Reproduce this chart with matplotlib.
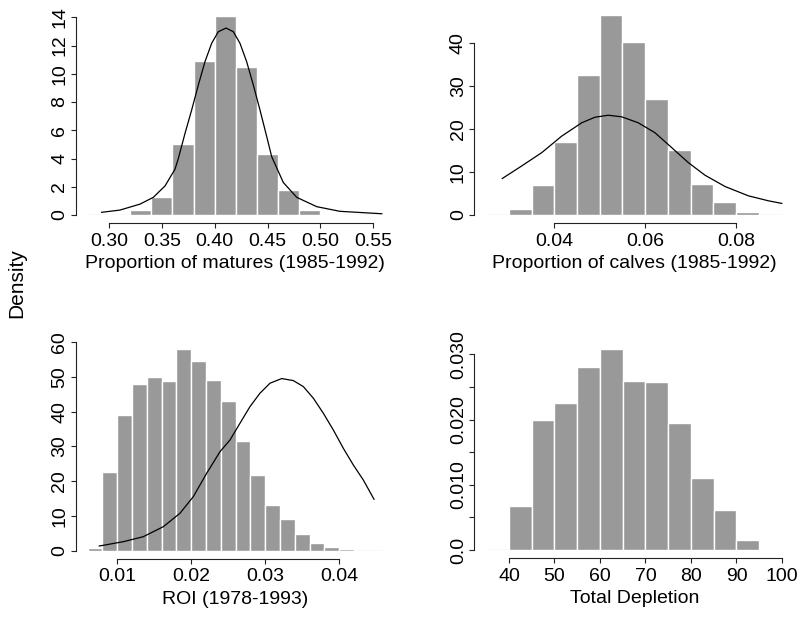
import matplotlib.pyplot as plt
import numpy as np

plt.rcParams['font.family'] = ['Liberation Sans', 'DejaVu Sans']

# ---- proportion of matures (1985-1992)
mat_edges = [0.32, 0.34, 0.36, 0.38, 0.40, 0.42, 0.44, 0.46, 0.48, 0.50, 0.52]
mat_dens = [0.35, 1.3, 5.0, 10.9, 14.1, 10.5, 4.3, 1.8, 0.38, 0.1]
mat_cx = [0.2931, 0.3104, 0.3293, 0.3419, 0.3530, 0.3624, 0.3656, 0.3719, 0.3782,
          0.3845, 0.3908, 0.3971, 0.4034, 0.4107, 0.4176, 0.4239, 0.4302, 0.4365,
          0.4428, 0.4492, 0.4539, 0.4649, 0.4776, 0.4965, 0.5185, 0.5580]
mat_cy = [0.19, 0.35, 0.77, 1.25, 2.06, 3.24, 4.01, 5.78, 7.44,
          9.21, 10.86, 12.16, 12.98, 13.24, 12.98, 12.16, 10.86, 9.21,
          7.44, 5.55, 4.13, 2.30, 1.25, 0.59, 0.26, 0.09]
mat_xticks = [0.30, 0.35, 0.40, 0.45, 0.50, 0.55]
mat_yticks = [0, 2, 4, 6, 8, 10, 12, 14]

# ---- proportion of calves (1985-1992)
calf_edges = [0.030, 0.035, 0.040, 0.045, 0.050, 0.055, 0.060, 0.065, 0.070, 0.075, 0.080, 0.085]
calf_dens = [1.5, 6.9, 16.9, 32.7, 46.6, 40.2, 27.1, 15.1, 7.3, 3.0, 0.77]
calf_cx = [0.02855, 0.03282, 0.03723, 0.04163, 0.04603, 0.04896, 0.05189, 0.05484,
           0.05849, 0.06217, 0.06585, 0.06950, 0.07318, 0.07758, 0.08271, 0.08712, 0.09007]
calf_cy = [8.50, 11.42, 14.52, 18.37, 21.47, 22.77, 23.23, 22.86,
           21.47, 19.15, 15.68, 12.20, 9.26, 6.64, 4.47, 3.31, 2.70]
calf_xticks = [0.04, 0.06, 0.08]
calf_yticks = [0, 10, 20, 30, 40]

# ---- ROI (1978-1993)
roi_edges = [0.006, 0.008, 0.010, 0.012, 0.014, 0.016, 0.018, 0.020, 0.022, 0.024,
             0.026, 0.028, 0.030, 0.032, 0.034, 0.036, 0.038, 0.040, 0.042]
roi_dens = [0.9, 22.6, 39.1, 47.9, 49.9, 48.9, 58.0, 54.5, 49.0,
            43.1, 31.6, 21.8, 13.2, 9.2, 4.7, 2.1, 0.97, 0.5]
roi_cx = [0.00757, 0.01081, 0.01351, 0.01622, 0.01847, 0.02027, 0.02208, 0.02388,
          0.02523, 0.02658, 0.02793, 0.02928, 0.03064, 0.03222, 0.03378, 0.03514,
          0.03649, 0.03784, 0.03919, 0.04054, 0.04189, 0.04324, 0.04469]
roi_cy = [1.35, 2.59, 4.03, 6.91, 10.77, 15.55, 22.29, 28.5,
          31.87, 36.68, 41.46, 45.32, 48.20, 49.53, 48.95, 47.22,
          43.88, 39.56, 34.75, 29.48, 24.68, 20.36, 14.80]
roi_xticks = [0.01, 0.02, 0.03, 0.04]
roi_yticks = [0, 10, 20, 30, 40, 50, 60]

# ---- total depletion
dep_edges = [40, 45, 50, 55, 60, 65, 70, 75, 80, 85, 90, 95, 100]
dep_dens = [0.0067, 0.0199, 0.0225, 0.0280, 0.0308, 0.0259, 0.0257, 0.0194,
            0.0110, 0.0062, 0.0015, 0.0002]
dep_xticks = [40, 50, 60, 70, 80, 90, 100]
dep_yticks = [0, 0.005, 0.010, 0.015, 0.020, 0.025, 0.030]
dep_ylabels = ['0.0', '', '0.010', '', '0.020', '', '0.030']

W, H = 801, 617
fig = plt.figure(figsize=(W / 100, H / 100), dpi=100)


def panel(left, right, top, bottom, xlim, ylim):
    # box given in pixels of the picture, y counted from the top
    ax = fig.add_axes([left / W, 1 - bottom / H, (right - left) / W, (bottom - top) / H])
    ax.set_xlim(xlim)
    ax.set_ylim(ylim)
    return ax


def draw(ax, edges, dens, xticks, yticks, xlabel, ylabels=None):
    ax.axhline(0, color='#dddddd', lw=1.0, zorder=1)
    ax.bar(edges[:-1], dens, width=np.diff(edges), align='edge',
           color='#999999', edgecolor='white', linewidth=1.0, zorder=2)
    for s in ['top', 'right']:
        ax.spines[s].set_visible(False)
    ax.spines['left'].set_position(('outward', 8.3))
    ax.spines['bottom'].set_position(('outward', 5.8))
    ax.spines['left'].set_bounds(yticks[0], yticks[-1])
    ax.spines['bottom'].set_bounds(xticks[0], xticks[-1])
    for s in ['left', 'bottom']:
        ax.spines[s].set_linewidth(0.8)
        ax.spines[s].set_color('#222222')
    ax.set_xticks(xticks)
    ax.set_yticks(yticks)
    if ylabels is not None:
        ax.set_yticklabels(ylabels)
    ax.tick_params(length=3.4, width=0.8, color='#222222', labelsize=14)
    ax.tick_params(axis='x', pad=3.5)
    ax.tick_params(axis='y', pad=2, labelrotation=90)
    for lab in ax.get_yticklabels():
        lab.set_va('center')
    ax.set_xlabel(xlabel, fontsize=14, labelpad=4)
    ax.patch.set_visible(False)


ax1 = panel(87.3, 383.3, 8, 215, (0.27947, 0.55946), (0, 14.66))
draw(ax1, mat_edges, mat_dens, mat_xticks, mat_yticks, 'Proportion of matures (1985-1992)')
ax1.set_xticklabels(['%.2f' % v for v in mat_xticks])
ax1.plot(mat_cx, mat_cy, color='black', lw=0.9, zorder=3)

ax2 = panel(486, 782.7, 8, 215, (0.02496, 0.09028), (0, 48.2))
draw(ax2, calf_edges, calf_dens, calf_xticks, calf_yticks, 'Proportion of calves (1985-1992)')
ax2.set_xticklabels(['%.2f' % v for v in calf_xticks])
ax2.plot(calf_cx, calf_cy, color='black', lw=0.9, zorder=3)

ax3 = panel(87.3, 382.7, 338, 550.7, (0.005946, 0.045865), (0, 61.2))
draw(ax3, roi_edges, roi_dens, roi_xticks, roi_yticks, 'ROI (1978-1993)')
ax3.set_xticklabels(['%.2f' % v for v in roi_xticks])
ax3.plot(roi_cx, roi_cy, color='black', lw=0.9, zorder=3)

ax4 = panel(486, 783, 338, 550, (34.945, 100.22), (0, 0.0325))
draw(ax4, dep_edges, dep_dens, dep_xticks, dep_yticks, 'Total Depletion', dep_ylabels)

fig.text(16.7 / W, 1 - 283 / H, 'Density', rotation=90, fontsize=15,
         ha='center', va='center')

fig.savefig('out.png', dpi=100)
